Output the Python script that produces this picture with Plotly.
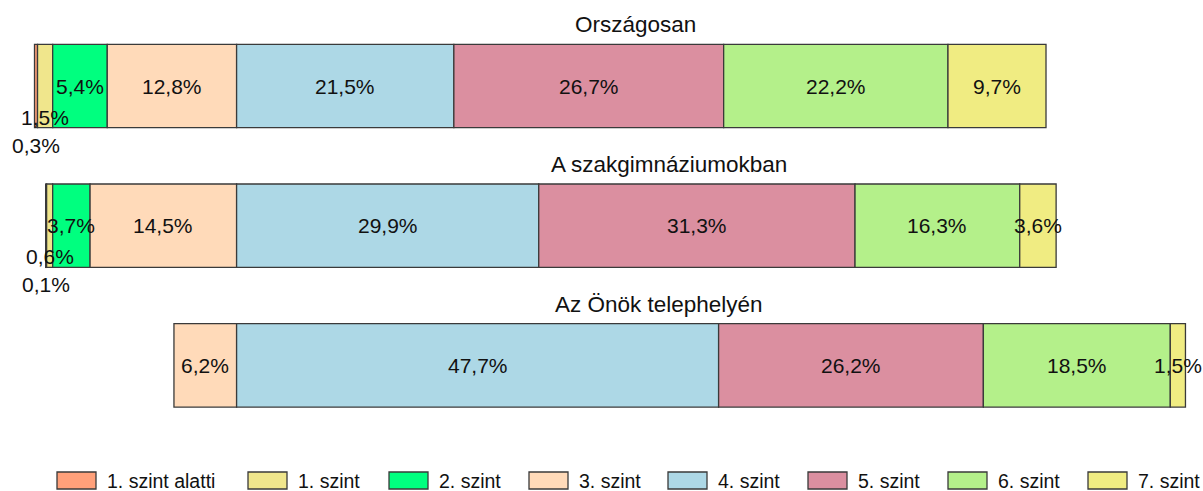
import plotly.graph_objects as go

# -- data ---------------------------------------------------------------
groups = ["Országosan", "A szakgimnáziumokban", "Az Önök telephelyén"]
levels = ["1. szint alatti", "1. szint", "2. szint", "3. szint",
          "4. szint", "5. szint", "6. szint", "7. szint"]

# percent per level, one list per group (None = no segment)
orszagos = [0.3, 1.5, 5.4, 12.8, 21.5, 26.7, 22.2, 9.7]
szakgimn = [0.1, 0.6, 3.7, 14.5, 29.9, 31.3, 16.3, 3.6]
telephely = [None, None, None, 6.2, 47.7, 26.2, 18.5, 1.5]
values = [orszagos, szakgimn, telephely]

colors = ["#FFA07A", "#F0E68C", "#00FF7F", "#FFDAB9",
          "#ADD8E6", "#DB8FA0", "#B4F08A", "#F0EC82"]

# -- style / layout constants -------------------------------------------
FONT = "Liberation Sans, Arial, sans-serif"
N_LEFT = 4                  # levels drawn left of the 3/4 boundary
label_shift = {0: -59, 1: -31}   # tiny left segments get their label pushed down
title_x = [635, 669, 659]   # px centres of the group titles
legend_x = [57, 248, 389, 529, 668, 808, 948, 1088]
W, H = 1203, 491


def fmt(v):
    return f"{v:.1f}".replace(".", ",") + "%"


def bases(row):
    out = []
    for k, v in enumerate(row):
        if k < N_LEFT:
            out.append(-sum(x or 0 for x in row[k:N_LEFT]))
        else:
            out.append(sum(x or 0 for x in row[N_LEFT:k]))
    return out


all_bases = [bases(r) for r in values]

fig = go.Figure()
for k, lev in enumerate(levels):
    fig.add_trace(go.Bar(
        y=list(range(len(groups))),
        x=[values[g][k] for g in range(len(groups))],
        base=[all_bases[g][k] for g in range(len(groups))],
        orientation="h",
        width=0.597,
        name=lev,
        marker=dict(color=colors[k], line=dict(color="#3a3a3a", width=1.3)),
        showlegend=False,
        hoverinfo="skip",
    ))

annotations = []
for g in range(len(groups)):
    for k in range(len(levels)):
        v = values[g][k]
        if v is None:
            continue
        annotations.append(dict(
            x=all_bases[g][k] + v / 2, y=g, xref="x", yref="y",
            text=fmt(v), showarrow=False,
            yshift=label_shift.get(k, 0) if v < 2 else 0,
            font=dict(family=FONT, size=21, color="#111111"),
        ))
    annotations.append(dict(
        x=title_x[g] / W, y=g - 0.437, xref="paper", yref="y",
        text=groups[g], showarrow=False,
        font=dict(family=FONT, size=22.5, color="#111111"),
    ))

# legend drawn as swatches + text
shapes = []
for k, lev in enumerate(levels):
    x0 = legend_x[k]
    shapes.append(dict(
        type="rect", xref="paper", yref="paper",
        x0=x0 / W, x1=(x0 + 39) / W, y0=1 - 489 / H, y1=1 - 472 / H,
        fillcolor=colors[k], line=dict(color="#3a3a3a", width=1.3),
    ))
    annotations.append(dict(
        x=(x0 + 48) / W, y=1 - 481 / H, xref="paper", yref="paper",
        xanchor="left", yanchor="middle", text=lev, showarrow=False,
        font=dict(family=FONT, size=19.5, color="#111111"),
    ))

x_scale = 10.105
x_zero = 236.6
fig.update_layout(
    width=W, height=H,
    margin=dict(l=0, r=0, t=0, b=0),
    paper_bgcolor="white", plot_bgcolor="white",
    barmode="overlay",
    xaxis=dict(range=[-x_zero / x_scale, (W - x_zero) / x_scale],
               showgrid=False, zeroline=False, showticklabels=False, visible=False),
    yaxis=dict(range=[(H - 86) / 139.7, -86 / 139.7],
               showgrid=False, zeroline=False, showticklabels=False, visible=False),
    annotations=annotations,
    shapes=shapes,
)

# drop the default page margin so the figure sits at the window's corner
fig.write_html("out.html", config={"displayModeBar": False},
               post_script="document.body.style.margin='0';")
